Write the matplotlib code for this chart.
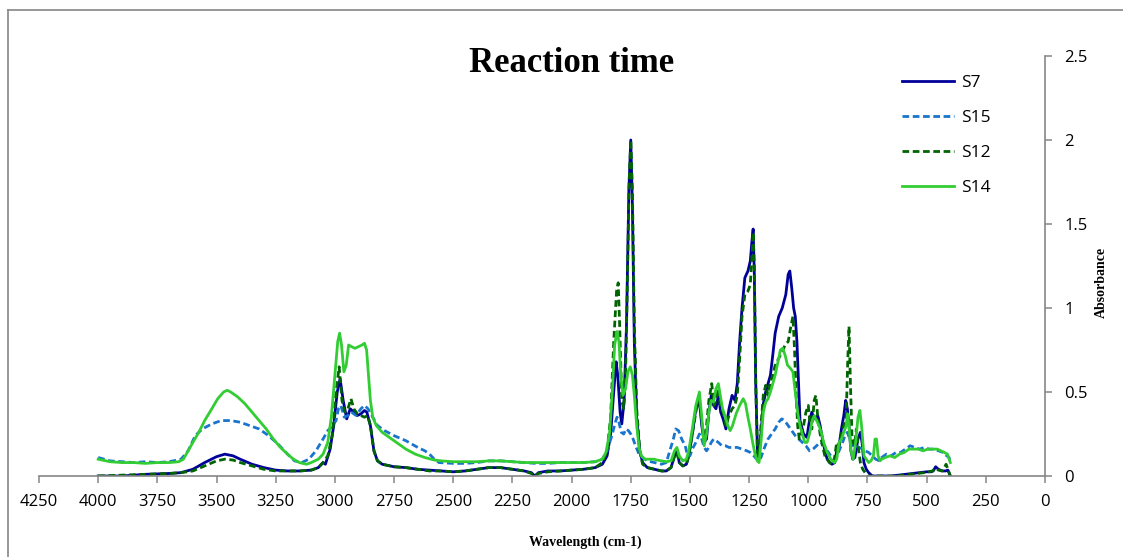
import matplotlib
matplotlib.use("Agg")
import matplotlib.pyplot as plt
from matplotlib.lines import Line2D

# Data: (wavenumber, absorbance) pairs per sample
s7_points = [
    (4000, 0.00), (3900, 0.00), (3800, 0.01), (3700, 0.015), (3650, 0.02), (3600, 0.04), (3550, 0.08),
    (3500, 0.115), (3465, 0.13), (3430, 0.12), (3400, 0.10), (3350, 0.07), (3300, 0.05), (3250, 0.035),
    (3200, 0.03), (3150, 0.03), (3100, 0.035), (3070, 0.05), (3050, 0.08), (3040, 0.07), (3020, 0.16),
    (3005, 0.30), (2990, 0.50), (2978, 0.58), (2965, 0.45), (2950, 0.34), (2935, 0.40), (2920, 0.38),
    (2905, 0.36), (2890, 0.37), (2875, 0.39), (2865, 0.38), (2850, 0.30), (2835, 0.15), (2820, 0.09),
    (2800, 0.07), (2750, 0.055), (2700, 0.05), (2650, 0.04), (2600, 0.035), (2550, 0.03), (2500, 0.025),
    (2450, 0.03), (2400, 0.04), (2350, 0.05), (2300, 0.05), (2250, 0.04), (2200, 0.03), (2170, 0.02),
    (2155, 0.00), (2140, 0.02), (2100, 0.03), (2050, 0.03), (2000, 0.035), (1950, 0.04), (1900, 0.05),
    (1870, 0.07), (1850, 0.12), (1835, 0.25), (1822, 0.50), (1812, 0.68), (1805, 0.60), (1795, 0.38),
    (1788, 0.31), (1778, 0.45), (1768, 0.90), (1758, 1.70), (1750, 2.00), (1743, 1.60), (1735, 0.80),
    (1725, 0.35), (1712, 0.15), (1700, 0.08), (1680, 0.05), (1650, 0.04), (1620, 0.03), (1600, 0.03),
    (1580, 0.05), (1565, 0.12), (1555, 0.15), (1545, 0.08), (1530, 0.06), (1515, 0.07), (1505, 0.12),
    (1490, 0.25), (1475, 0.40), (1460, 0.45), (1450, 0.30), (1440, 0.20), (1430, 0.22), (1420, 0.38),
    (1410, 0.48), (1400, 0.42), (1390, 0.40), (1380, 0.48), (1370, 0.38), (1360, 0.34), (1348, 0.28),
    (1335, 0.40), (1322, 0.48), (1310, 0.45), (1300, 0.55), (1290, 0.80), (1280, 1.00), (1268, 1.18),
    (1255, 1.22), (1245, 1.28), (1238, 1.40), (1233, 1.47), (1228, 1.20), (1222, 0.55), (1215, 0.15),
    (1210, 0.09), (1200, 0.25), (1190, 0.43), (1180, 0.50), (1170, 0.55), (1160, 0.60), (1150, 0.72),
    (1140, 0.85), (1125, 0.95), (1110, 1.00), (1095, 1.08), (1085, 1.20), (1078, 1.22), (1070, 1.12),
    (1062, 1.00), (1055, 0.95), (1048, 0.80), (1035, 0.33), (1020, 0.25), (1006, 0.23), (995, 0.33),
    (985, 0.38), (975, 0.34), (960, 0.36), (950, 0.30), (940, 0.22), (930, 0.15), (920, 0.10),
    (910, 0.08), (900, 0.07), (888, 0.08), (880, 0.15), (870, 0.18), (860, 0.28), (850, 0.36),
    (842, 0.45), (835, 0.40), (828, 0.30), (820, 0.15), (812, 0.10), (803, 0.11), (790, 0.22),
    (780, 0.26), (773, 0.20), (765, 0.08), (755, 0.04), (745, 0.02), (730, 0.00), (715, 0.00),
    (700, 0.00), (680, 0.00), (650, 0.00), (620, 0.005), (590, 0.01), (560, 0.015), (530, 0.02),
    (500, 0.025), (480, 0.025), (472, 0.03), (462, 0.055), (450, 0.04), (435, 0.03), (420, 0.03),
    (410, 0.035), (400, 0.00),
]

s15_points = [
    (4000, 0.11), (3950, 0.09), (3900, 0.085), (3850, 0.08), (3800, 0.085), (3750, 0.08), (3700, 0.085),
    (3650, 0.10), (3620, 0.15), (3590, 0.24), (3560, 0.28), (3520, 0.31), (3480, 0.33), (3440, 0.33),
    (3400, 0.32), (3360, 0.30), (3320, 0.28), (3280, 0.24), (3240, 0.19), (3200, 0.13), (3170, 0.09),
    (3140, 0.08), (3110, 0.10), (3080, 0.15), (3050, 0.22), (3030, 0.27), (3010, 0.30), (2995, 0.33),
    (2985, 0.40), (2975, 0.42), (2960, 0.35), (2945, 0.36), (2930, 0.38), (2910, 0.36), (2890, 0.40),
    (2875, 0.42), (2860, 0.40), (2840, 0.35), (2820, 0.30), (2790, 0.27), (2750, 0.24), (2700, 0.21),
    (2650, 0.17), (2620, 0.15), (2600, 0.13), (2580, 0.10), (2560, 0.08), (2500, 0.075), (2450, 0.075),
    (2400, 0.08), (2350, 0.09), (2300, 0.09), (2250, 0.085), (2200, 0.08), (2150, 0.075), (2100, 0.075),
    (2050, 0.08), (2000, 0.08), (1950, 0.08), (1900, 0.085), (1870, 0.10), (1850, 0.15), (1830, 0.24),
    (1815, 0.32), (1808, 0.35), (1800, 0.32), (1790, 0.26), (1780, 0.25), (1770, 0.28), (1760, 0.27),
    (1750, 0.25), (1740, 0.22), (1730, 0.18), (1715, 0.13), (1700, 0.11), (1680, 0.09), (1650, 0.08),
    (1620, 0.07), (1600, 0.08), (1585, 0.15), (1570, 0.22), (1560, 0.28), (1548, 0.27), (1535, 0.22),
    (1520, 0.18), (1510, 0.12), (1500, 0.12), (1490, 0.16), (1475, 0.20), (1460, 0.25), (1450, 0.22),
    (1440, 0.17), (1430, 0.15), (1420, 0.17), (1410, 0.20), (1400, 0.22), (1390, 0.21), (1380, 0.20),
    (1365, 0.18), (1350, 0.18), (1335, 0.17), (1320, 0.17), (1300, 0.17), (1280, 0.16), (1260, 0.15),
    (1245, 0.14), (1230, 0.12), (1218, 0.10), (1210, 0.09), (1200, 0.11), (1185, 0.17), (1170, 0.22),
    (1155, 0.25), (1140, 0.28), (1125, 0.32), (1112, 0.34), (1100, 0.33), (1085, 0.30), (1070, 0.27),
    (1055, 0.24), (1040, 0.22), (1025, 0.20), (1010, 0.18), (995, 0.15), (980, 0.16), (965, 0.18),
    (950, 0.20), (935, 0.19), (920, 0.15), (905, 0.12), (895, 0.10), (885, 0.10), (870, 0.15),
    (855, 0.20), (845, 0.24), (835, 0.26), (825, 0.22), (815, 0.18), (800, 0.18), (785, 0.17),
    (770, 0.16), (760, 0.15), (745, 0.14), (730, 0.12), (715, 0.10), (700, 0.09), (690, 0.11),
    (670, 0.13), (650, 0.12), (630, 0.14), (610, 0.14), (590, 0.16), (570, 0.18), (550, 0.17),
    (530, 0.16), (510, 0.17), (490, 0.16), (470, 0.16), (450, 0.15), (430, 0.14), (415, 0.12),
    (405, 0.11), (400, 0.08),
]

s12_points = [
    (4000, 0.00), (3900, 0.005), (3800, 0.01), (3700, 0.015), (3650, 0.02), (3600, 0.03), (3550, 0.06),
    (3500, 0.09), (3465, 0.10), (3430, 0.095), (3400, 0.08), (3350, 0.06), (3300, 0.04), (3250, 0.03),
    (3200, 0.03), (3150, 0.03), (3100, 0.035), (3070, 0.05), (3050, 0.08), (3030, 0.12), (3010, 0.25),
    (2995, 0.50), (2982, 0.65), (2970, 0.45), (2958, 0.38), (2945, 0.40), (2932, 0.46), (2920, 0.40),
    (2905, 0.37), (2890, 0.36), (2875, 0.35), (2862, 0.36), (2850, 0.30), (2835, 0.15), (2820, 0.09),
    (2800, 0.07), (2750, 0.055), (2700, 0.05), (2650, 0.04), (2600, 0.03), (2550, 0.03), (2500, 0.025),
    (2450, 0.03), (2400, 0.04), (2350, 0.05), (2300, 0.05), (2250, 0.04), (2200, 0.03), (2170, 0.015),
    (2155, 0.00), (2140, 0.015), (2100, 0.025), (2050, 0.03), (2000, 0.035), (1950, 0.04), (1900, 0.05),
    (1870, 0.08), (1850, 0.15), (1835, 0.35), (1822, 0.80), (1810, 1.10), (1803, 1.15), (1797, 0.90),
    (1788, 0.45), (1780, 0.40), (1772, 0.60), (1765, 1.10), (1757, 1.75), (1750, 2.00), (1743, 1.70),
    (1735, 0.90), (1725, 0.40), (1712, 0.15), (1700, 0.07), (1680, 0.05), (1650, 0.04), (1620, 0.03),
    (1600, 0.03), (1580, 0.05), (1565, 0.12), (1555, 0.14), (1545, 0.08), (1530, 0.06), (1515, 0.07),
    (1505, 0.12), (1490, 0.25), (1475, 0.38), (1462, 0.47), (1450, 0.32), (1440, 0.22), (1430, 0.30),
    (1420, 0.45), (1408, 0.55), (1398, 0.42), (1390, 0.45), (1380, 0.52), (1370, 0.40), (1360, 0.38),
    (1348, 0.30), (1335, 0.36), (1322, 0.40), (1310, 0.42), (1300, 0.48), (1290, 0.70), (1280, 0.95),
    (1268, 1.08), (1255, 1.10), (1245, 1.14), (1238, 1.30), (1233, 1.45), (1228, 1.25), (1222, 0.55),
    (1215, 0.15), (1210, 0.09), (1200, 0.30), (1190, 0.48), (1180, 0.54), (1170, 0.48), (1160, 0.56),
    (1150, 0.60), (1140, 0.66), (1125, 0.70), (1110, 0.74), (1098, 0.78), (1085, 0.80), (1075, 0.88),
    (1065, 0.95), (1058, 0.75), (1052, 0.50), (1045, 0.30), (1038, 0.22), (1030, 0.25), (1020, 0.30),
    (1010, 0.38), (1000, 0.42), (992, 0.30), (985, 0.28), (975, 0.45), (968, 0.48), (960, 0.35),
    (950, 0.25), (940, 0.18), (930, 0.12), (920, 0.10), (910, 0.08), (900, 0.07), (890, 0.10),
    (880, 0.20), (870, 0.18), (860, 0.25), (850, 0.30), (840, 0.35), (833, 0.70), (828, 0.89),
    (822, 0.55), (815, 0.22), (805, 0.18), (797, 0.28), (790, 0.18), (780, 0.08), (770, 0.04),
    (760, 0.02), (750, 0.00), (740, 0.00), (725, 0.00), (710, 0.00), (690, 0.00), (660, 0.00),
    (630, 0.00), (600, 0.005), (570, 0.01), (540, 0.015), (510, 0.02), (490, 0.025), (475, 0.03),
    (465, 0.045), (450, 0.035), (435, 0.03), (425, 0.05), (418, 0.07), (410, 0.04), (400, 0.00),
]

s14_points = [
    (4000, 0.10), (3950, 0.085), (3900, 0.08), (3850, 0.08), (3800, 0.075), (3750, 0.08), (3700, 0.08),
    (3660, 0.085), (3640, 0.10), (3620, 0.15), (3600, 0.20), (3575, 0.26), (3550, 0.33), (3520, 0.40),
    (3495, 0.46), (3470, 0.50), (3455, 0.51), (3440, 0.50), (3410, 0.47), (3380, 0.43), (3350, 0.38),
    (3320, 0.33), (3290, 0.28), (3260, 0.22), (3230, 0.17), (3200, 0.13), (3175, 0.10), (3150, 0.08),
    (3120, 0.07), (3100, 0.08), (3070, 0.10), (3050, 0.13), (3030, 0.20), (3015, 0.35), (3000, 0.60),
    (2988, 0.80), (2980, 0.85), (2972, 0.78), (2962, 0.62), (2952, 0.66), (2942, 0.78), (2930, 0.77),
    (2915, 0.76), (2900, 0.77), (2885, 0.78), (2875, 0.79), (2866, 0.75), (2858, 0.60), (2850, 0.45),
    (2840, 0.35), (2825, 0.30), (2800, 0.26), (2770, 0.23), (2740, 0.20), (2700, 0.16), (2660, 0.13),
    (2620, 0.11), (2580, 0.095), (2550, 0.09), (2500, 0.085), (2450, 0.085), (2400, 0.085), (2350, 0.09),
    (2300, 0.09), (2250, 0.085), (2200, 0.08), (2150, 0.08), (2100, 0.08), (2050, 0.08), (2000, 0.08),
    (1950, 0.08), (1900, 0.085), (1870, 0.10), (1855, 0.14), (1840, 0.25), (1828, 0.50), (1818, 0.78),
    (1808, 0.86), (1800, 0.80), (1792, 0.60), (1783, 0.48), (1772, 0.52), (1762, 0.62), (1752, 0.65),
    (1743, 0.60), (1735, 0.48), (1725, 0.30), (1715, 0.17), (1705, 0.12), (1690, 0.10), (1670, 0.10),
    (1650, 0.10), (1640, 0.095), (1620, 0.09), (1600, 0.085), (1580, 0.09), (1565, 0.15), (1555, 0.17),
    (1545, 0.12), (1530, 0.09), (1515, 0.10), (1505, 0.15), (1490, 0.28), (1475, 0.42), (1460, 0.50),
    (1450, 0.35), (1440, 0.18), (1430, 0.25), (1420, 0.38), (1410, 0.45), (1400, 0.44), (1390, 0.52),
    (1380, 0.55), (1372, 0.48), (1362, 0.40), (1350, 0.35), (1340, 0.30), (1330, 0.27), (1320, 0.30),
    (1305, 0.37), (1290, 0.42), (1275, 0.46), (1265, 0.43), (1255, 0.35), (1245, 0.28), (1235, 0.20),
    (1225, 0.13), (1215, 0.09), (1208, 0.08), (1200, 0.20), (1190, 0.38), (1180, 0.44), (1170, 0.46),
    (1160, 0.50), (1150, 0.55), (1140, 0.60), (1128, 0.68), (1118, 0.75), (1108, 0.76), (1098, 0.72),
    (1088, 0.66), (1075, 0.64), (1065, 0.62), (1055, 0.50), (1045, 0.38), (1035, 0.30), (1025, 0.25),
    (1015, 0.20), (1005, 0.20), (995, 0.25), (985, 0.32), (975, 0.36), (965, 0.33), (955, 0.30),
    (945, 0.26), (935, 0.20), (920, 0.14), (905, 0.10), (890, 0.08), (880, 0.10), (870, 0.20),
    (860, 0.22), (850, 0.26), (840, 0.30), (834, 0.37), (828, 0.30), (820, 0.15), (810, 0.10),
    (800, 0.20), (790, 0.35), (782, 0.39), (775, 0.30), (765, 0.12), (755, 0.10), (745, 0.08),
    (735, 0.09), (725, 0.12), (718, 0.22), (712, 0.22), (705, 0.12), (697, 0.09), (690, 0.10),
    (675, 0.11), (655, 0.12), (635, 0.11), (615, 0.13), (595, 0.14), (575, 0.16), (555, 0.16),
    (535, 0.16), (515, 0.15), (495, 0.16), (475, 0.16), (455, 0.16), (440, 0.15), (425, 0.14),
    (412, 0.13), (405, 0.10), (400, 0.08),
]

series_names = ['S7', 'S15', 'S12', 'S14']
series_colors = ['#000099', '#1874CD', '#006400', '#32CD32']
series_dashed = [False, True, True, False]
series_points = [s7_points, s15_points, s12_points, s14_points]

fig = plt.figure(figsize=(11.23, 5.57), dpi=100)
ax = fig.add_axes([39 / 1123, 1 - 476 / 557, (1045 - 39) / 1123, (476 - 56) / 557])

for name, color, dashed, pts in zip(series_names, series_colors, series_dashed, series_points):
    wn = [p[0] for p in pts]
    ab = [p[1] for p in pts]
    if dashed:
        ax.plot(wn, ab, color=color, lw=2.0, dashes=(2.4, 1.3), label=name)
    else:
        ax.plot(wn, ab, color=color, lw=2.0, label=name)

# Excel style: reversed x axis, value axis on the right (at 0)
ax.set_xlim(4250, 0)
ax.set_ylim(0, 2.5)
ax.set_xticks(range(0, 4251, 250))
ax.set_yticks([0, 0.5, 1, 1.5, 2, 2.5])
ax.set_yticklabels(['0', '0.5', '1', '1.5', '2', '2.5'])
ax.yaxis.tick_right()

grey = '#868686'
for side in ['top', 'left']:
    ax.spines[side].set_visible(False)
for side in ['bottom', 'right']:
    ax.spines[side].set_color(grey)
    ax.spines[side].set_linewidth(1.2)
ax.tick_params(axis='both', colors=grey, length=5, width=1.1, direction='out',
               labelcolor='black', labelsize=12)
ax.tick_params(axis='x', pad=8)
ax.tick_params(axis='y', pad=9)
for lab in ax.get_xticklabels() + ax.get_yticklabels():
    lab.set_fontfamily('Open Sans')

fig.text(572 / 1123, 1 - 63 / 557, 'Reaction time', ha='center', va='center',
         fontsize=25, fontweight='bold', family='Liberation Serif')
fig.text(585 / 1123, 1 - 542 / 557, 'Wavelength (cm-1)', ha='center', va='center',
         fontsize=10, fontweight='bold', family='Liberation Serif')
fig.text(1101 / 1123, 1 - 282 / 557, 'Absorbance', ha='center', va='center', rotation=90,
         fontsize=10, fontweight='bold', family='Liberation Serif')

leg = ax.legend(loc='upper left', bbox_to_anchor=(902 / 1123, 1 - 75 / 557),
                bbox_transform=fig.transFigure, frameon=False, handlelength=3.0,
                handletextpad=0.4, labelspacing=1.08, borderpad=0, borderaxespad=0,
                prop={'family': 'Open Sans', 'size': 12.5})

# chart area border (only top and left edges fall inside the picture)
fig.add_artist(Line2D([8 / 1123, 8 / 1123], [0, 1 - 10 / 557], transform=fig.transFigure,
                      color=grey, lw=1.2))
fig.add_artist(Line2D([8 / 1123, 1], [1 - 10 / 557, 1 - 10 / 557], transform=fig.transFigure,
                      color=grey, lw=1.2))

fig.savefig('out.png', dpi=100)
